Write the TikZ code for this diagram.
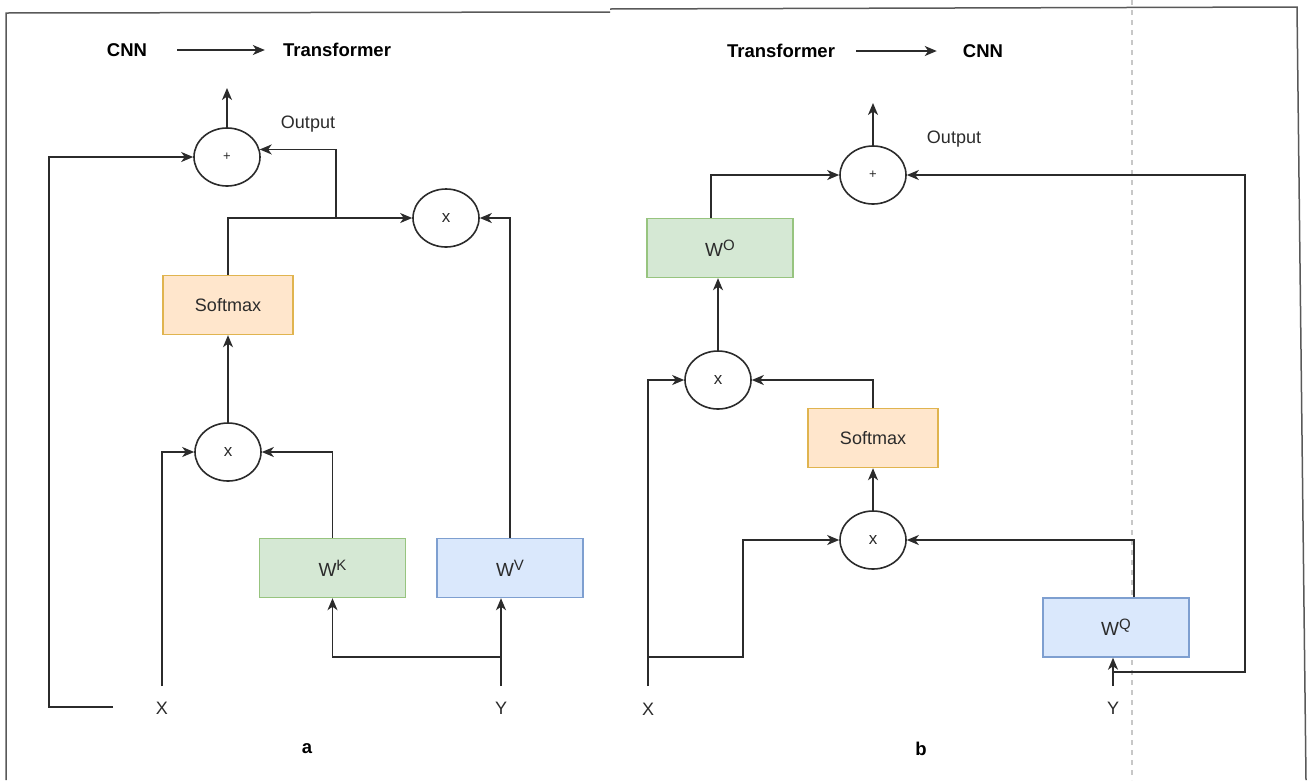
\documentclass[tikz,border=0pt]{standalone}
\usepackage{fontspec}
\setmainfont{Liberation Sans}
\usetikzlibrary{arrows.meta,shapes.geometric,calc}
\definecolor{peachfill}{HTML}{FFE6CC}
\definecolor{peachline}{HTML}{E0B44F}
\definecolor{greenfill}{HTML}{D5E8D4}
\definecolor{greenline}{HTML}{97C47F}
\definecolor{bluefill}{HTML}{DAE8FC}
\definecolor{blueline}{HTML}{7E9FD0}
\definecolor{ink}{HTML}{2B2B2B}
% weight matrix label with a raised index
\newcommand{\wmat}[1]{W\raisebox{0.62ex}{\fontsize{15}{16}\selectfont #1}}
\tikzset{
  x=1pt, y=-1pt,
  txt/.style={font=\fontsize{18}{20}\selectfont, text=ink, inner sep=0pt},
  head/.style={font=\fontsize{18.5}{20}\selectfont\bfseries, text=black, inner sep=0pt},
  op/.style={ellipse, draw=ink, line width=1.6pt, fill=white,
             minimum width=66pt, minimum height=58pt, inner sep=0pt,
             font=\fontsize{17}{18}\selectfont, text=ink},
  plusop/.style={op, font=\fontsize{13}{14}\selectfont},
  wbox/.style={rectangle, line width=1.4pt, minimum width=146pt, minimum height=59pt,
               inner sep=0pt, font=\fontsize{19}{20}\selectfont, text=ink},
  softbox/.style={wbox, fill=peachfill, draw=peachline, minimum width=130pt,
                  font=\fontsize{18}{20}\selectfont},
  greenbox/.style={wbox, fill=greenfill, draw=greenline},
  bluebox/.style={wbox, fill=bluefill, draw=blueline},
  arr/.style={draw=ink, line width=1.6pt, -{Stealth[length=12pt,width=10pt,inset=3.5pt]}},
  frame/.style={draw=black!65, line width=1.5pt},
}
\begin{document}
\begin{tikzpicture}
\useasboundingbox (0,0) rectangle (1309,780);

% page frame and guide line
\draw[frame] (6,780) -- (6,13) -- (610,12);
\draw[frame] (610,9) -- (1297,7) -- (1306,780);
\draw[black!22, line width=1.2pt, dash pattern=on 5pt off 5pt] (1132,0) -- (1132,780);

% ---------------- panel a: CNN -> Transformer ----------------
\node[head] (ha1) at (127,50) {CNN};
\node[head] (ha2) at (337,50) {Transformer};
\draw[arr] ([xshift=30pt]ha1.east) -- ([xshift=-18pt]ha2.west);

\node[plusop] (pa) at (227,157) {+};
\node[op] (xa2) at (446,218) {x};
\node[softbox] (sma) at (228,305) {Softmax};
\node[op] (xa1) at (228,452) {x};
\node[greenbox] (wk) at (332.5,568) {\wmat{K}};
\node[bluebox] (wv) at (510,568) {\wmat{V}};
\node[txt] (Xa) at (162,708) {X};
\node[txt] (Ya) at (501,708) {Y};
\node[txt] (outa) at (308,124) {Output};
\node[head] (la) at (307,749) {a};

\coordinate (topa) at (227,88);
\coordinate (fba) at (113,707);
\coordinate (ja) at (336,218);
\coordinate (xin) at (162,686);
\coordinate (yin) at (501,686);
\coordinate (yka) at (501,657);

\draw[arr] (pa.north) -- (topa);
\draw[arr] (fba) -- ++(-64,0) |- (pa.west);
\draw[arr] (sma.north) |- (xa2.west);
\draw[arr] (ja) |- (pa.13);
\draw[arr] (wv.north) |- (xa2.east);
\draw[arr] (xa1.north) -- (sma.south);
\draw[arr] (xin) |- (xa1.west);
\draw[arr] (wk.north) |- (xa1.east);
\draw[arr] (yin) -- (yin |- wv.south);
\draw[arr] (yka) -| (wk.south);

% ---------------- panel b: Transformer -> CNN ----------------
\node[head] (hb1) at (781,51) {Transformer};
\node[head] (hb2) at (983,51) {CNN};
\draw[arr] ([xshift=21pt]hb1.east) -- ([xshift=-26pt]hb2.west);

\node[plusop] (pb) at (873,175) {+};
\node[greenbox] (wo) at (720,248) {\wmat{O}};
\node[op] (xb2) at (718,380) {x};
\node[softbox] (smb) at (873,438) {Softmax};
\node[op] (xb1) at (873,540) {x};
\node[bluebox] (wq) at (1116,627.5) {\wmat{Q}};
\node[txt] (Xb) at (648,709) {X};
\node[txt] (Yb) at (1113,708) {Y};
\node[txt] (outb) at (954,139) {Output};
\node[head] (lb) at (921,749) {b};

\coordinate (topb) at (873,103);
\coordinate (xbin) at (648,686);
\coordinate (xbb) at (648,657);
\coordinate (ybin) at (1113,686);
\coordinate (ybb) at (1113,672);

\draw[arr] (pb.north) -- (topb);
\draw[arr] ([xshift=-9pt]wo.north) |- (pb.west);
\draw[arr] (ybb) -- ++(132,0) |- (pb.east);
\draw[arr] (xb2.north) -- (xb2 |- wo.south);
\draw[arr] (xbin) |- (xb2.west);
\draw[arr] (smb.north) |- (xb2.east);
\draw[arr] (xb1.north) -- (smb.south);
\draw[arr] (xbb) -- ++(95,0) |- (xb1.west);
\draw[arr] ([xshift=18pt]wq.north) |- (xb1.east);
\draw[arr] (ybin) -- (ybin |- wq.south);
\end{tikzpicture}
\end{document}
